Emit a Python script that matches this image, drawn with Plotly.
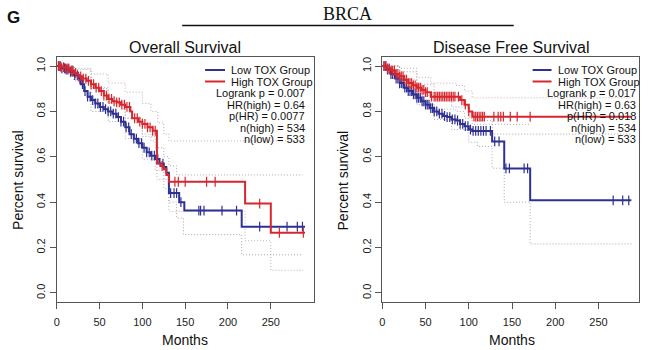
import plotly.graph_objects as go

W, H = 669, 350

# ---- Overall survival: Kaplan-Meier steps (months, survival) ----
os_high_t = [0, 5, 10, 15, 20, 25, 30, 35, 40, 45, 50, 55, 60, 65, 70, 75, 80, 86, 88, 95, 100, 106, 112, 117, 121, 125, 128, 131, 220, 250, 290]
os_high_s = [1.0, 0.995, 0.99, 0.98, 0.97, 0.955, 0.945, 0.935, 0.92, 0.905, 0.89, 0.87, 0.855, 0.845, 0.84, 0.83, 0.82, 0.80, 0.77, 0.755, 0.745, 0.73, 0.715, 0.57, 0.56, 0.545, 0.52, 0.49, 0.394, 0.265, 0.265]
os_low_t = [0, 5, 10, 15, 20, 25, 28, 32, 36, 40, 45, 50, 55, 60, 65, 70, 75, 80, 85, 90, 95, 100, 105, 110, 115, 120, 125, 128, 131, 143, 149, 216, 290]
os_low_s = [1.0, 0.99, 0.985, 0.975, 0.96, 0.945, 0.92, 0.89, 0.865, 0.85, 0.835, 0.82, 0.81, 0.80, 0.79, 0.775, 0.755, 0.73, 0.70, 0.68, 0.66, 0.64, 0.62, 0.605, 0.59, 0.57, 0.555, 0.53, 0.44, 0.40, 0.363, 0.292, 0.292]

os_high_ci_up_t = [0, 20, 40, 60, 80, 100, 110, 118, 125, 131, 287]
os_high_ci_up_s = [1.0, 0.99, 0.965, 0.925, 0.885, 0.835, 0.80, 0.75, 0.70, 0.67, 0.67]
os_high_ci_lo_t = [0, 20, 40, 60, 80, 100, 110, 117, 125, 131, 220, 250, 288]
os_high_ci_lo_s = [1.0, 0.955, 0.905, 0.835, 0.77, 0.70, 0.67, 0.50, 0.46, 0.36, 0.23, 0.10, 0.10]
os_low_ci_up_t = [0, 20, 40, 60, 80, 100, 115, 125, 131, 140, 287]
os_low_ci_up_s = [1.0, 0.985, 0.90, 0.84, 0.77, 0.69, 0.64, 0.60, 0.56, 0.52, 0.52]
os_low_ci_lo_t = [0, 20, 40, 60, 80, 100, 115, 125, 131, 140, 148, 216, 287]
os_low_ci_lo_s = [1.0, 0.935, 0.80, 0.755, 0.68, 0.59, 0.54, 0.50, 0.40, 0.33, 0.257, 0.168, 0.168]

os_high_censor = [2, 3, 5, 8, 10, 12, 14, 17, 19, 22, 25, 28, 31, 34, 37, 40, 43, 46, 49, 52, 55, 58, 61, 64, 67, 70, 73, 76, 79, 82, 85, 91, 94, 97, 100, 103, 106, 109, 112, 115, 123, 138, 142, 150, 175, 185, 237, 260, 288]
os_low_censor = [2, 4, 6, 9, 11, 13, 16, 18, 21, 24, 27, 30, 33, 36, 39, 42, 45, 48, 51, 54, 57, 60, 63, 66, 69, 72, 75, 78, 81, 84, 87, 90, 93, 96, 99, 102, 105, 108, 111, 114, 118, 124, 133, 137, 140, 145, 166, 168, 172, 193, 210, 237, 269, 281, 287]

# ---- Disease free survival ----
dfs_high_t = [0, 5, 10, 15, 20, 25, 30, 35, 40, 45, 50, 56, 85, 90, 95, 100, 104, 288]
dfs_high_s = [1.0, 0.99, 0.98, 0.965, 0.955, 0.94, 0.925, 0.915, 0.905, 0.895, 0.885, 0.865, 0.865, 0.85, 0.83, 0.80, 0.777, 0.777]
dfs_low_t = [0, 5, 10, 15, 20, 25, 30, 35, 40, 45, 50, 55, 60, 65, 70, 75, 80, 85, 90, 95, 100, 104, 127, 141, 171, 288]
dfs_low_s = [1.0, 0.985, 0.965, 0.945, 0.925, 0.905, 0.89, 0.875, 0.86, 0.845, 0.83, 0.815, 0.80, 0.79, 0.78, 0.775, 0.765, 0.76, 0.745, 0.735, 0.72, 0.714, 0.668, 0.549, 0.408, 0.408]

dfs_high_ci_up_t = [0, 20, 40, 56, 85, 95, 104, 288]
dfs_high_ci_up_s = [1.0, 0.99, 0.95, 0.925, 0.915, 0.89, 0.86, 0.86]
dfs_high_ci_lo_t = [0, 20, 40, 56, 85, 95, 104, 171]
dfs_high_ci_lo_s = [1.0, 0.94, 0.87, 0.81, 0.80, 0.77, 0.743, 0.743]
dfs_low_ci_up_t = [0, 20, 40, 60, 80, 100, 110, 127, 288]
dfs_low_ci_up_s = [1.0, 0.975, 0.92, 0.86, 0.82, 0.775, 0.76, 0.70, 0.70]
dfs_low_ci_lo_t = [0, 20, 40, 60, 80, 100, 110, 127, 141, 171, 288]
dfs_low_ci_lo_s = [1.0, 0.90, 0.83, 0.765, 0.72, 0.665, 0.646, 0.55, 0.40, 0.216, 0.216]

dfs_high_censor = [2, 4, 6, 8, 10, 12, 14, 16, 18, 20, 22, 24, 26, 28, 30, 32, 34, 36, 38, 40, 42, 44, 46, 48, 50, 52, 57, 60, 62, 64, 66, 68, 70, 72, 74, 76, 78, 80, 82, 84, 88, 92, 96, 100, 106, 108, 110, 112, 114, 116, 118, 129, 134, 137, 140, 148, 156, 171]
dfs_low_censor = [2, 4, 6, 8, 10, 12, 14, 16, 18, 20, 22, 24, 26, 28, 30, 32, 34, 36, 38, 40, 42, 44, 46, 48, 50, 52, 54, 56, 58, 60, 63, 66, 69, 72, 75, 78, 81, 84, 87, 90, 93, 96, 99, 102, 105, 108, 111, 114, 117, 120, 125, 130, 135, 143, 147, 164, 168, 267, 278, 285]

panel_titles = ["Overall Survival", "Disease Free Survival"]
group_labels = ["Low TOX Group", "High TOX Group"]
os_stats = ["Logrank p = 0.007", "HR(high) = 0.64", "p(HR) = 0.0077", "n(high) = 534", "n(low) = 533"]
dfs_stats = ["Logrank p = 0.017", "HR(high) = 0.63", "p(HR) = 0.018", "n(high) = 534", "n(low) = 533"]
x_ticks = [0, 50, 100, 150, 200, 250]
y_ticks = [0.0, 0.2, 0.4, 0.6, 0.8, 1.0]

BLUE = "#2e3192"
RED = "#d7262d"
BLUE_CI = "rgba(150,150,170,0.85)"
RED_CI = "rgba(195,155,160,0.85)"
AX = "#555555"
FONT = "Liberation Sans, Arial, sans-serif"


def px_x(p):
    return p / W


def px_y(p):
    return 1 - p / H


def step_value(ts, ss, t):
    val = ss[0]
    for ti, si in zip(ts, ss):
        if ti <= t:
            val = si
        else:
            break
    return val


fig = go.Figure()

panels = [
    dict(xa="x", ya="y", high=(os_high_t, os_high_s), low=(os_low_t, os_low_s),
         ci=[(os_high_ci_up_t, os_high_ci_up_s, RED_CI), (os_high_ci_lo_t, os_high_ci_lo_s, RED_CI),
             (os_low_ci_up_t, os_low_ci_up_s, BLUE_CI), (os_low_ci_lo_t, os_low_ci_lo_s, BLUE_CI)],
         cens_high=os_high_censor, cens_low=os_low_censor),
    dict(xa="x2", ya="y2", high=(dfs_high_t, dfs_high_s), low=(dfs_low_t, dfs_low_s),
         ci=[(dfs_high_ci_up_t, dfs_high_ci_up_s, RED_CI), (dfs_high_ci_lo_t, dfs_high_ci_lo_s, RED_CI),
             (dfs_low_ci_up_t, dfs_low_ci_up_s, BLUE_CI), (dfs_low_ci_lo_t, dfs_low_ci_lo_s, BLUE_CI)],
         cens_high=dfs_high_censor, cens_low=dfs_low_censor),
]

for p in panels:
    for ts, ss, col in p["ci"]:
        fig.add_trace(go.Scatter(x=ts, y=ss, mode="lines", line=dict(shape="hv", dash="1px,2px", width=1, color=col),
                                 xaxis=p["xa"], yaxis=p["ya"], showlegend=False, hoverinfo="skip"))
    for (ts, ss), cens, col in [(p["low"], p["cens_low"], BLUE), (p["high"], p["cens_high"], RED)]:
        fig.add_trace(go.Scatter(x=ts, y=ss, mode="lines", line=dict(shape="hv", width=2, color=col),
                                 xaxis=p["xa"], yaxis=p["ya"], showlegend=False))
        fig.add_trace(go.Scatter(x=cens, y=[step_value(ts, ss, c) for c in cens], mode="markers",
                                 marker=dict(symbol="line-ns", size=7, line=dict(width=1.2, color=col)),
                                 xaxis=p["xa"], yaxis=p["ya"], showlegend=False))

axis_common = dict(showgrid=False, zeroline=False, showline=True, mirror=True, linecolor=AX, linewidth=1,
                   ticks="outside", ticklen=6, tickcolor=AX, tickwidth=1,
                   tickfont=dict(family=FONT, size=11, color="#222"))

yb, yt = 302, 57
fig.update_layout(
    width=W, height=H, margin=dict(l=0, r=0, t=0, b=0),
    paper_bgcolor="white", plot_bgcolor="white",
    xaxis=dict(domain=[px_x(54), px_x(312)], range=[0, 300], tickvals=x_ticks, ticklabelstandoff=4, **axis_common),
    yaxis=dict(domain=[px_y(yb), px_y(yt)], range=[-0.04, 1.04], tickvals=y_ticks, tickformat=".1f",
               tickangle=-90, **axis_common),
    xaxis2=dict(domain=[px_x(381), px_x(639)], range=[0, 297], tickvals=x_ticks, ticklabelstandoff=4,
                anchor="y2", **axis_common),
    yaxis2=dict(domain=[px_y(yb), px_y(yt)], range=[-0.04, 1.04], tickvals=y_ticks, tickformat=".1f",
                tickangle=-90, anchor="x2", **axis_common),
)

ann = []
shapes = []


def text(x, y, s, size, anchor="center", family=FONT, **kw):
    ann.append(dict(x=px_x(x), y=px_y(y), xref="paper", yref="paper", text=s, showarrow=False,
                    xanchor=anchor, yanchor="middle", font=dict(family=family, size=size, color=kw.pop("color", "#111")), **kw))


# Header
text(11, 18, "<b>G</b>", 17)
text(346, 14, "BRCA", 18, family="Liberation Serif, Times New Roman, serif")
shapes.append(dict(type="line", xref="paper", yref="paper", x0=px_x(180), x1=px_x(513), y0=px_y(25.5), y1=px_y(25.5),
                   line=dict(color="#111", width=1.5)))

# Panel titles and axis titles
for cx, ylab_x, title in [(183, 15, panel_titles[0]), (511, 342, panel_titles[1])]:
    text(cx, 47, title, 16)
    text(cx, 340, "Months", 14)
    text(ylab_x, 180, "Percent survival", 14, textangle=-90)

# In-plot legends and statistics
line_ys = [70, 81.5, 93, 104.5, 116, 127.5, 139]
for lx0, lx1, tx, sx, stats in [(203, 223, 227, 305, os_stats), (532, 551, 555, 638, dfs_stats)]:
    for i, col in enumerate([BLUE, RED]):
        shapes.append(dict(type="line", xref="paper", yref="paper", x0=px_x(lx0), x1=px_x(lx1),
                           y0=px_y(line_ys[i]), y1=px_y(line_ys[i]), line=dict(color=col, width=2)))
        text(tx, line_ys[i], group_labels[i], 11, anchor="left")
    for j, s in enumerate(stats):
        text(sx, line_ys[j + 2], s, 11, anchor="right")

fig.update_layout(annotations=ann, shapes=shapes)
fig.write_html("out.html")
